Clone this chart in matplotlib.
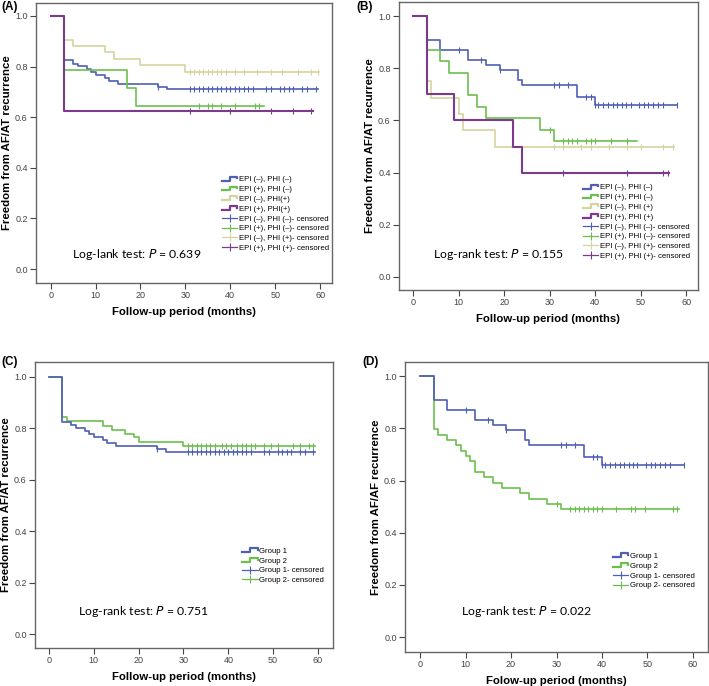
import matplotlib
matplotlib.use("Agg")
import matplotlib.pyplot as plt
import numpy as np
from matplotlib.lines import Line2D
from matplotlib.legend_handler import HandlerBase

# ---- data ----
# Panel A : EPI / PHI subgroups
a_blue_t = [0, 3, 5, 6, 8, 9, 10, 12, 13, 15, 24, 26]
a_blue_s = [1.0, 0.824, 0.812, 0.801, 0.790, 0.778, 0.767, 0.755, 0.744, 0.733, 0.721, 0.71]
a_blue_cens = [24, 31, 32, 33, 34, 35, 36, 37, 38, 39, 40, 41, 42, 43, 44, 45, 48, 49, 51, 52, 53, 54, 56, 57, 59]
a_blue_end = 59.5

a_green_t = [0, 3, 17, 19]
a_green_s = [1.0, 0.786, 0.714, 0.643]
a_green_cens = [33, 35, 36, 38, 41, 45.5, 46.5]
a_green_end = 47.5

a_tan_t = [0, 3, 5, 12, 14, 20, 30]
a_tan_s = [1.0, 0.905, 0.881, 0.857, 0.83, 0.805, 0.78]
a_tan_cens = [31, 32, 33, 34, 35, 36, 37, 38, 39, 41, 43, 46, 49, 51.5, 55, 58, 59.5]
a_tan_end = 59.7

a_purple_t = [0, 3]
a_purple_s = [1.0, 0.625]
a_purple_cens = [31, 40, 49, 54, 58]
a_purple_end = 58.5

# Panel B : EPI / PHI subgroups
b_blue_t = [0, 3, 6, 12, 16, 19, 23, 24, 36, 40]
b_blue_s = [1.0, 0.91, 0.87, 0.833, 0.814, 0.795, 0.756, 0.735, 0.689, 0.66]
b_blue_cens = [10, 15, 19, 31, 32, 34, 38, 39, 40, 40.7, 41.8, 42.8, 43.9, 44.8, 45.9, 46.8, 47.8,
               49.7, 50.8, 51.7, 52.8, 53.8, 54.9, 58]
b_blue_end = 58

b_green_t = [0, 3, 6, 8, 12, 14, 16, 28, 31]
b_green_s = [1.0, 0.87, 0.826, 0.783, 0.696, 0.652, 0.609, 0.565, 0.52]
b_green_cens = [30, 33, 34, 35, 36, 38, 39, 40, 43.5, 47]
b_green_end = 49.3

b_tan_t = [0, 3, 4, 10, 11, 18]
b_tan_s = [1.0, 0.75, 0.6875, 0.625, 0.5625, 0.5]
b_tan_cens = [31, 33, 37, 39, 43, 47, 50, 55, 57]
b_tan_end = 57.3

b_purple_t = [0, 3, 9, 22, 24]
b_purple_s = [1.0, 0.7, 0.6, 0.5, 0.4]
b_purple_cens = [33, 47, 55, 56]
b_purple_end = 56.3

# Panel C : group 1 vs group 2
c_g1_t = a_blue_t
c_g1_s = a_blue_s
c_g1_cens = a_blue_cens
c_g1_end = 59.3

c_g2_t = [0, 3, 4, 12, 14, 17, 19, 20, 30]
c_g2_s = [1.0, 0.843, 0.827, 0.811, 0.795, 0.78, 0.765, 0.747, 0.73]
c_g2_cens = [31, 32, 33, 34, 35, 36, 37, 38.5, 39.5, 40.5, 42, 43, 44, 45, 46, 48, 49.5, 51, 54.5, 56, 58, 59]
c_g2_end = 59.3

# Panel D : group 1 vs group 2
d_g1_t = b_blue_t
d_g1_s = b_blue_s
d_g1_cens = b_blue_cens
d_g1_end = 58

d_g2_t = [0, 3, 4, 6, 8, 9, 10, 11, 12, 14, 16, 18, 22, 24, 28, 31]
d_g2_s = [1.0, 0.796, 0.776, 0.755, 0.735, 0.714, 0.694, 0.673, 0.633, 0.612, 0.592,
          0.571, 0.551, 0.531, 0.51, 0.49]
d_g2_cens = [30, 33, 34, 35, 36, 37, 38, 39, 40, 43, 46.3, 47.2, 49.4, 55.6, 56.5]
d_g2_end = 57

sub_labels = ["EPI (\u2013), PHI (\u2013)", "EPI (+), PHI (\u2013)", "EPI (\u2013), PHI(+)", "EPI (+), PHI(+)"]
sub_labels_b = ["EPI (\u2013), PHI (\u2013)", "EPI (+), PHI (\u2013)", "EPI (\u2013), PHI (+)", "EPI (+), PHI (+)"]
cens_labels = ["EPI (\u2013), PHI (\u2013)- censored", "EPI (+), PHI (\u2013)- censored",
               "EPI (\u2013), PHI (+)- censored", "EPI (+), PHI (+)- censored"]
grp_labels = ["Group 1", "Group 2"]
grp_cens_labels = ["Group 1- censored", "Group 2- censored"]
pvals = ["0.639", "0.155", "0.751", "0.022"]

BLUE = "#4f5fb3"
GREEN = "#6cbf4f"
TAN = "#d6d3a0"
PURPLE = "#7b3a8c"

plt.rcParams['font.family'] = ['Liberation Sans', 'DejaVu Sans']


class StepHandler(HandlerBase):
    # SPSS style legend glyph: low line, step up, short drop at the end
    def create_artists(self, legend, orig_handle, xdescent, ydescent, width, height, fontsize, trans):
        lo = -ydescent + 0.15 * height
        hi = -ydescent + 0.85 * height
        xm = -xdescent + 0.5 * width
        xs = [-xdescent, xm, xm, -xdescent + width, -xdescent + width]
        ys = [lo, lo, hi, hi, 0.55 * height - ydescent]
        ln = Line2D(xs, ys, color=orig_handle.get_color(), lw=1.6, transform=trans)
        return [ln]


def km(ax, t, s, end, cens, color, lw=1.2):
    tt = list(t) + [end]
    ss = list(s) + [s[-1]]
    ax.step(tt, ss, where='post', color=color, lw=lw)
    idx = np.searchsorted(np.array(t), np.array(cens), side='right') - 1
    cy = np.array(s)[idx]
    ax.plot(cens, cy, ls='none', marker='|', ms=5, mew=0.8, color=color)


def style(ax, xlim, ylim, ylabel, xlabel):
    ax.set_xlim(*xlim)
    ax.set_ylim(*ylim)
    ax.set_xticks(range(0, 61, 10))
    ax.set_yticks([0.0, 0.2, 0.4, 0.6, 0.8, 1.0])
    ax.set_yticklabels(["0.0", "0.2", "0.4", "0.6", "0.8", "1.0"])
    ax.tick_params(labelsize=6.5, labelcolor="#444444", color="#444444", length=4, width=0.8,
                   direction='out', pad=2)
    for sp in ax.spines.values():
        sp.set_color("#666666")
        sp.set_linewidth(1.0)
    ax.set_ylabel(ylabel, fontsize=8.2, fontweight='bold', labelpad=2)
    ax.set_xlabel(xlabel, fontsize=8.2, fontweight='bold', labelpad=5)


def add_legend(ax, colors, labels, clabels, anchor):
    hs = [Line2D([], [], color=c) for c in colors]
    hc = [Line2D([], [], color=c, lw=0.9, marker='|', ms=6, mew=0.8) for c in colors]
    hmap = {h: StepHandler() for h in hs}
    ax.legend(hs + hc, labels + clabels, loc='upper left', bbox_to_anchor=anchor, frameon=False,
              fontsize=5.6, handlelength=2.0, handletextpad=0.15, labelspacing=0.3,
              borderpad=0, borderaxespad=0, handler_map=hmap)


def ptext(ax, pos, p, word="rank"):
    ax.text(pos[0], pos[1], "Log-%s test: $\\it{P}$ = %s" % (word, p), transform=ax.transAxes,
            fontsize=8.8, family=['Lato', 'DejaVu Sans'], va='center', ha='left')


fig = plt.figure(figsize=(7.09, 6.86), dpi=100)
W, H = 709, 686


def add_ax(l, r, t, b):
    return fig.add_axes([l / W, 1 - b / H, (r - l) / W, (b - t) / H])


axA = add_ax(36, 332, 3, 283)
axB = add_ax(399, 698, 2, 290)
axC = add_ax(35, 333, 362, 648)
axD = add_ax(405, 708, 362, 652)

# A
km(axA, a_tan_t, a_tan_s, a_tan_end, a_tan_cens, TAN)
km(axA, a_blue_t, a_blue_s, a_blue_end, a_blue_cens, BLUE)
km(axA, a_green_t, a_green_s, a_green_end, a_green_cens, GREEN)
km(axA, a_purple_t, a_purple_s, a_purple_end, a_purple_cens, PURPLE, lw=1.5)
style(axA, (-3.27, 62.65), (-0.055, 1.051), "Freedom from AF/AT recurrence", "Follow-up period (months)")
add_legend(axA, [BLUE, GREEN, TAN, PURPLE], sub_labels, cens_labels, (0.628, 0.382))
ptext(axA, (0.122, 0.10), pvals[0], word="lank")

# B
km(axB, b_tan_t, b_tan_s, b_tan_end, b_tan_cens, TAN)
km(axB, b_blue_t, b_blue_s, b_blue_end, b_blue_cens, BLUE)
km(axB, b_green_t, b_green_s, b_green_end, b_green_cens, GREEN)
km(axB, b_purple_t, b_purple_s, b_purple_end, b_purple_cens, PURPLE, lw=1.5)
style(axB, (-3.08, 62.6), (-0.05, 1.054), "Freedom from AF/AT recurrence", "Follow-up period (months)")
add_legend(axB, [BLUE, GREEN, TAN, PURPLE], sub_labels_b, cens_labels, (0.615, 0.368))
ptext(axB, (0.114, 0.122), pvals[1])

# C
km(axC, c_g2_t, c_g2_s, c_g2_end, c_g2_cens, GREEN)
km(axC, c_g1_t, c_g1_s, c_g1_end, c_g1_cens, BLUE)
style(axC, (-3.12, 63.35), (-0.054, 1.058), "Freedom from AF/AT recurrence", "Follow-up period (months)")
add_legend(axC, [BLUE, GREEN], grp_labels, grp_cens_labels, (0.695, 0.352))
ptext(axC, (0.144, 0.126), pvals[2])

# D
km(axD, d_g2_t, d_g2_s, d_g2_end, d_g2_cens, GREEN)
km(axD, d_g1_t, d_g1_s, d_g1_end, d_g1_cens, BLUE)
style(axD, (-3.3, 63.3), (-0.057, 1.054), "Freedom from AF/AF recurrence", "Folow-up period (months)")
add_legend(axD, [BLUE, GREEN], grp_labels, grp_cens_labels, (0.686, 0.343))
ptext(axD, (0.185, 0.138), pvals[3])

for x, y, lab in [(1, 7, "(A)"), (356, 7, "(B)"), (1, 362, "(C)"), (362, 362, "(D)")]:
    fig.text(x / W, 1 - y / H, lab, fontsize=8.5, fontweight='bold', va='center', ha='left')

fig.savefig("out.png", dpi=100)
